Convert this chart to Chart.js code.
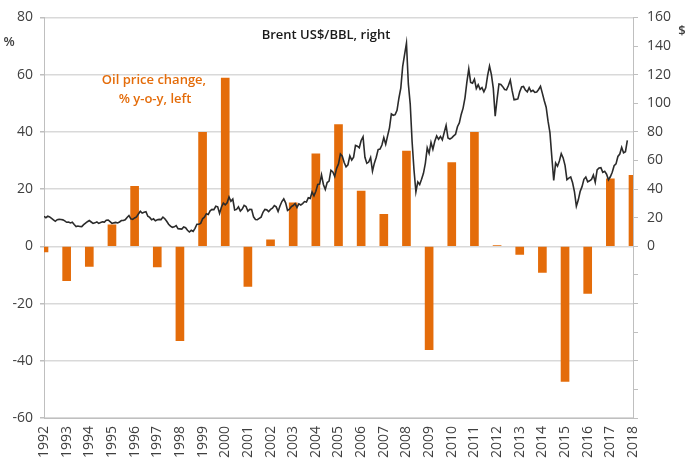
<!DOCTYPE html>
<html>
<head>
<meta charset="utf-8">
<script src="https://cdn.jsdelivr.net/npm/chart.js@4"></script>
<style>
  body { margin: 0; background: #fff; }
  canvas { display: block; }
</style>
</head>
<body>
<canvas id="oilChart" width="687" height="464"></canvas>
<script>
// Yearly oil price change, % y-o-y (left axis)
const years = [1992, 1993, 1994, 1995, 1996, 1997, 1998, 1999, 2000, 2001, 2002, 2003, 2004,
    2005, 2006, 2007, 2008, 2009, 2010, 2011, 2012, 2013, 2014, 2015, 2016, 2017, 2018];
const priceChange = [-2, -12, -7, 7.5, 21, -7.2, -33, 39.8, 58.8, -14, 2.3, 15.2, 32.3,
    42.5, 19.3, 11.2, 33.3, -36.1, 29.3, 39.8, 0.3, -2.8, -9.1, -47.2, -16.5, 23.6, 24.8];

// Brent US$/BBL, monthly, from mid-1992 (right axis)
const brentStart = 1992;
const brent = [
    21, 20, 21, 20.5, 19.5, 18.5,
    17.5, 18.6, 18.8, 18.7, 18.5, 17.8, 16.8, 17, 16.3, 16.8, 15.2, 13.8,
    14.2, 13.9, 13.8, 15.1, 16.2, 17.2, 18, 17, 16, 16.4, 17.1, 16,
    16.6, 17.1, 16.9, 18.2, 18.4, 17.2, 16, 16.4, 16.7, 16.3, 17, 18,
    18, 18.5, 20.2, 21.5, 19.2, 18.8, 19.8, 20.6, 22.6, 24.5, 23.2, 23.8,
    24.2, 21, 20.2, 18.5, 19.2, 17.8, 18.6, 18.8, 18.7, 20.4, 19.3, 17.5,
    15.4, 14.1, 13.3, 13.6, 14.5, 12.3, 12.2, 12, 13.5, 13, 11.2, 10,
    11.2, 10.4, 12.6, 15.4, 15.4, 16, 19.2, 20.4, 22.8, 22.2, 24.8, 25.8,
    25.6, 28, 27.6, 23, 27.5, 30.2, 29, 30.4, 34.5, 31.5, 33, 25.4,
    25.8, 27.6, 24.6, 26, 28.6, 27.8, 24.6, 25.8, 25.7, 20.6, 18.8, 18.6,
    19.5, 20.4, 23.8, 25.8, 25.5, 24.2, 25.8, 26.7, 28.5, 27.6, 24.4, 28.2,
    31.3, 33.2, 30.4, 25.1, 25.9, 27.7, 28.5, 29.9, 27.2, 29.7, 28.9, 29.9,
    31.3, 31, 33.9, 33.5, 38, 35.3, 38.5, 43.2, 43.5, 50, 43.2, 39.7,
    44.6, 45.6, 53.2, 52, 48.8, 54.5, 57.6, 64.5, 63, 58.6, 55.6, 57,
    63.2, 60.3, 62.3, 70.5, 70, 68.9, 74, 76.5, 62.2, 58, 58.9, 62.1,
    52.5, 58.1, 62.3, 67.6, 68, 70.8, 76, 71.3, 77.2, 82.8, 92.5, 91.6,
    92, 95, 103.5, 110.6, 125.8, 134, 142, 113.5, 99.3, 72.9, 53.3, 38,
    45, 43.2, 46.9, 51, 58, 68.8, 65, 72.6, 67.8, 73.4, 77.2, 74.8,
    76.8, 74.4, 79.5, 84.5, 75.7, 75, 75.8, 77.2, 78.3, 83.6, 86.2, 92.2,
    96.6, 103.8, 114.8, 124, 114.6, 114, 116.8, 110.3, 112.9, 109.7, 110.9, 108,
    110.8, 119.5, 126, 120, 110.4, 91, 102.8, 113.5, 113.1, 111.6, 109.6, 109.3,
    112.4, 116.2, 108.6, 102.4, 102.7, 103, 108, 111.4, 111.7, 109.2, 107.9, 110.9,
    108.2, 109, 107.6, 107.9, 109.6, 111.9, 106.9, 101.7, 97.2, 87.5, 79.5, 62.4,
    46, 58.2, 56, 59.6, 64.8, 61.8, 56.6, 46.6, 47.7, 48.5, 44.4, 38.1,
    28, 32.3, 38.3, 41.7, 46.8, 48.4, 45.1, 45.8, 46.7, 49.8, 44.8, 53.4,
    54.7, 55, 51.7, 52.4, 50.4, 46.5, 48.6, 51.8, 56.3, 57.6, 62.8, 64.5,
    69.2, 65.4, 66.1, 74
];

const leftTicks = { min: -60, max: 80, step: 20 };
const rightTicks = { min: -120, max: 160, step: 20 };

const orange = '#e46c0a';
const gridColor = '#d9d9d9';
const axisColor = '#bfbfbf';
const font = "'Open Sans', 'Liberation Sans', sans-serif";

// text labels drawn on the canvas
const notesPlugin = {
    id: 'notes',
    afterDraw(chart) {
        const ctx = chart.ctx;
        ctx.save();
        ctx.textBaseline = 'middle';
        ctx.textAlign = 'center';
        ctx.fillStyle = orange;
        ctx.font = '600 13px ' + font;
        ctx.fillText('Oil price change,', 154, 80);
        ctx.fillText('% y-o-y, left', 155, 99);
        ctx.fillStyle = '#1a1a1a';
        ctx.fillText('Brent US$/BBL, right', 326, 35);
        ctx.fillStyle = '#404040';
        ctx.fillText('%', 9, 42);
        ctx.fillText('$', 682, 31);
        ctx.restore();
    }
};

const barData = years.map((y, i) => ({ x: y, y: priceChange[i] }));
const lineData = brent.map((v, i) => ({ x: brentStart + i / 12, y: v }));

new Chart(document.getElementById('oilChart'), {
    type: 'bar',
    data: {
        datasets: [{
            type: 'line',
            label: 'Brent US$/BBL, right',
            data: lineData,
            yAxisID: 'y1',
            borderColor: '#2b2b2b',
            borderWidth: 1.6,
            pointRadius: 0,
            tension: 0,
            order: 0
        }, {
            type: 'bar',
            label: 'Oil price change, % y-o-y, left',
            data: barData,
            yAxisID: 'y',
            backgroundColor: orange,
            barThickness: 8,
            clip: 0,
            order: 1
        }]
    },
    options: {
        responsive: false,
        animation: false,
        devicePixelRatio: 1,
        layout: { padding: { top: 13, left: 0, right: 0, bottom: 0 } },
        plugins: {
            legend: { display: false },
            tooltip: { enabled: false }
        },
        scales: {
            x: {
                type: 'linear',
                offset: false,
                min: years[0],
                max: years[years.length - 1],
                grid: { display: false, drawTicks: false },
                border: { color: axisColor },
                ticks: {
                    stepSize: 1,
                    autoSkip: false,
                    minRotation: 90,
                    maxRotation: 90,
                    padding: 8,
                    color: '#404040',
                    font: { family: font, size: 14 },
                    callback: v => String(v)
                },
                afterFit: s => { s.height = 46; }
            },
            y: {
                position: 'left',
                min: leftTicks.min,
                max: leftTicks.max,
                grid: { color: gridColor, lineWidth: 1.5, tickLength: 4, tickColor: axisColor },
                border: { color: axisColor },
                ticks: {
                    stepSize: leftTicks.step,
                    padding: 7,
                    color: '#404040',
                    font: { family: font, size: 14 }
                },
                afterFit: s => { s.width = 44; }
            },
            y1: {
                position: 'right',
                min: rightTicks.min,
                max: rightTicks.max,
                grid: { drawOnChartArea: false, tickLength: 5, color: axisColor },
                border: { color: axisColor },
                ticks: {
                    stepSize: rightTicks.step,
                    padding: 9,
                    color: '#404040',
                    font: { family: font, size: 14 },
                    callback: v => (v < 0 ? '' : v)
                },
                afterFit: s => { s.width = 54; }
            }
        }
    },
    plugins: [notesPlugin]
});
</script>
</body>
</html>
